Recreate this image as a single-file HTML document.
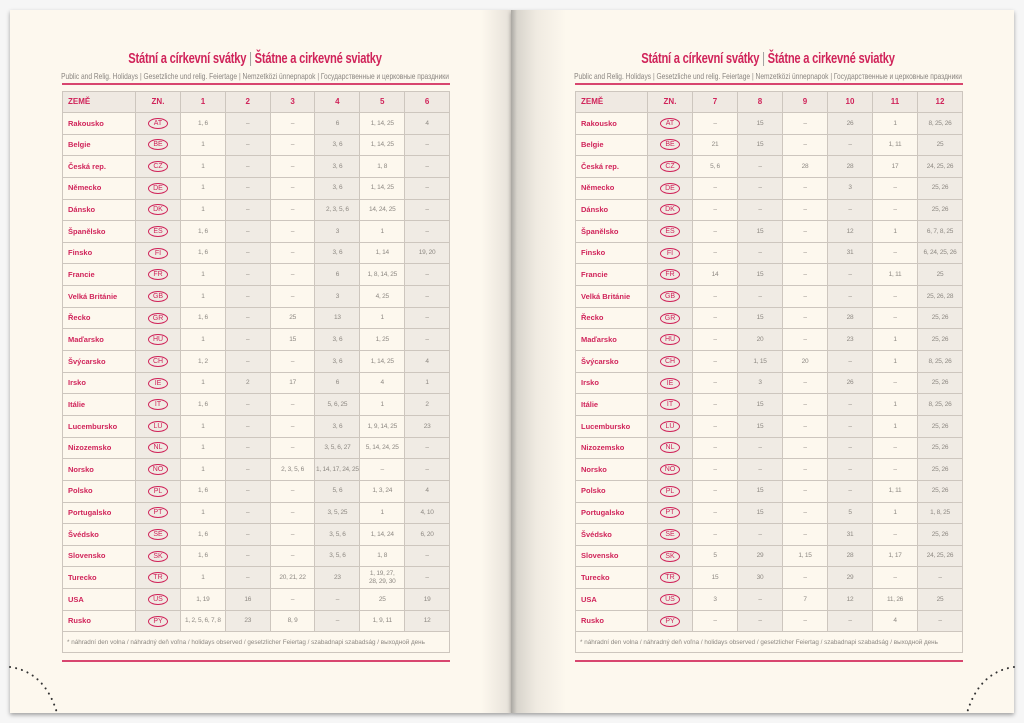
<!DOCTYPE html><html><head><meta charset="utf-8"><style>
*{margin:0;padding:0;box-sizing:border-box}
body{width:1024px;height:723px;background:#f6f6f6;position:relative;overflow:hidden;font-family:"Liberation Sans",sans-serif}
.pg{position:absolute;top:10px;height:703px;background:#fdf8ee}
#L{left:10px;width:501px;box-shadow:0 2px 4px rgba(0,0,0,.35);background:linear-gradient(to left,#e6e1d9 0,#fdf8ee 30px)}
#R{left:511px;width:503px;box-shadow:0 2px 4px rgba(0,0,0,.35);background:linear-gradient(to right,#a9a6a1 0,#d8d4cc 6px,#efeae1 25px,#fdf8ee 55px)}
.t1{position:absolute;top:51px;width:1000px;text-align:center;color:#d0245a;font-size:14.5px;font-weight:bold;letter-spacing:-.3px;transform:scaleX(.77);white-space:nowrap}
.t1 span{color:#999;font-weight:normal}
.t2{position:absolute;top:71px;width:1000px;text-align:center;color:#8a8580;font-size:8.5px;white-space:nowrap;transform:scaleX(.78)}
.rl{position:absolute;height:2px;background:#d8466f;width:388px}
table{position:absolute;top:91px;border-collapse:collapse;table-layout:fixed;width:388px;border:1.5px solid #c9c2ba}
td{border:1px solid #cdc6be;height:21.65px;text-align:center;font-size:6.5px;color:#8d8882;line-height:7.5px;padding:0;letter-spacing:-.25px;white-space:nowrap}
tr:first-child td{background:#efe9e2;color:#d0245a;font-size:8px;font-weight:bold;height:21px;letter-spacing:0}
td:first-child{text-align:left;padding-left:5px;color:#d0245a;font-weight:bold;font-size:7.5px;letter-spacing:0}
td:nth-child(2),td:nth-child(4),td:nth-child(6),td:nth-child(8){background:#f0ebe4}
td:nth-child(3),td:nth-child(5),td:nth-child(7){background:#fdf8ee}
i{display:inline-block;font-style:normal;border:1px solid #d0245a;border-radius:50%;color:#d0245a;font-size:7px;width:20px;height:11px;line-height:9px;font-weight:normal;vertical-align:middle;letter-spacing:0}
td.f{text-align:left;padding-left:4px;color:#8d8882;font-weight:normal;font-size:6.3px;height:21px;background:#fdf8ee}
</style></head><body>
<div class="pg" id="L"></div><div class="pg" id="R"></div>
<div class="t1" style="left:-245px">Státní a církevní svátky <span>|</span> Štátne a cirkevné sviatky</div>
<div class="t2" style="left:-245px">Public and Relig. Holidays | Gesetzliche und relig. Feiertage | Nemzetközi ünnepnapok | Государственные и церковные праздники</div>
<div class="rl" style="left:62px;top:83px"></div>
<div class="t1" style="left:268px">Státní a církevní svátky <span>|</span> Štátne a cirkevné sviatky</div>
<div class="t2" style="left:268px">Public and Relig. Holidays | Gesetzliche und relig. Feiertage | Nemzetközi ünnepnapok | Государственные и церковные праздники</div>
<div class="rl" style="left:575px;top:83px"></div>
<table style="left:62px"><colgroup><col style="width:73px"><col style="width:45px"><col><col><col><col><col><col></colgroup>
<tr><td>ZEMĚ</td><td>ZN.</td><td>1</td><td>2</td><td>3</td><td>4</td><td>5</td><td>6</td></tr>
<tr><td>Rakousko</td><td><i>AT</i></td><td>1, 6</td><td>–</td><td>–</td><td>6</td><td>1, 14, 25</td><td>4</td></tr>
<tr><td>Belgie</td><td><i>BE</i></td><td>1</td><td>–</td><td>–</td><td>3, 6</td><td>1, 14, 25</td><td>–</td></tr>
<tr><td>Česká rep.</td><td><i>CZ</i></td><td>1</td><td>–</td><td>–</td><td>3, 6</td><td>1, 8</td><td>–</td></tr>
<tr><td>Německo</td><td><i>DE</i></td><td>1</td><td>–</td><td>–</td><td>3, 6</td><td>1, 14, 25</td><td>–</td></tr>
<tr><td>Dánsko</td><td><i>DK</i></td><td>1</td><td>–</td><td>–</td><td>2, 3, 5, 6</td><td>14, 24, 25</td><td>–</td></tr>
<tr><td>Španělsko</td><td><i>ES</i></td><td>1, 6</td><td>–</td><td>–</td><td>3</td><td>1</td><td>–</td></tr>
<tr><td>Finsko</td><td><i>FI</i></td><td>1, 6</td><td>–</td><td>–</td><td>3, 6</td><td>1, 14</td><td>19, 20</td></tr>
<tr><td>Francie</td><td><i>FR</i></td><td>1</td><td>–</td><td>–</td><td>6</td><td>1, 8, 14, 25</td><td>–</td></tr>
<tr><td>Velká Británie</td><td><i>GB</i></td><td>1</td><td>–</td><td>–</td><td>3</td><td>4, 25</td><td>–</td></tr>
<tr><td>Řecko</td><td><i>GR</i></td><td>1, 6</td><td>–</td><td>25</td><td>13</td><td>1</td><td>–</td></tr>
<tr><td>Maďarsko</td><td><i>HU</i></td><td>1</td><td>–</td><td>15</td><td>3, 6</td><td>1, 25</td><td>–</td></tr>
<tr><td>Švýcarsko</td><td><i>CH</i></td><td>1, 2</td><td>–</td><td>–</td><td>3, 6</td><td>1, 14, 25</td><td>4</td></tr>
<tr><td>Irsko</td><td><i>IE</i></td><td>1</td><td>2</td><td>17</td><td>6</td><td>4</td><td>1</td></tr>
<tr><td>Itálie</td><td><i>IT</i></td><td>1, 6</td><td>–</td><td>–</td><td>5, 6, 25</td><td>1</td><td>2</td></tr>
<tr><td>Lucembursko</td><td><i>LU</i></td><td>1</td><td>–</td><td>–</td><td>3, 6</td><td>1, 9, 14, 25</td><td>23</td></tr>
<tr><td>Nizozemsko</td><td><i>NL</i></td><td>1</td><td>–</td><td>–</td><td>3, 5, 6, 27</td><td>5, 14, 24, 25</td><td>–</td></tr>
<tr><td>Norsko</td><td><i>NO</i></td><td>1</td><td>–</td><td>2, 3, 5, 6</td><td>1, 14, 17, 24, 25</td><td>–</td><td>–</td></tr>
<tr><td>Polsko</td><td><i>PL</i></td><td>1, 6</td><td>–</td><td>–</td><td>5, 6</td><td>1, 3, 24</td><td>4</td></tr>
<tr><td>Portugalsko</td><td><i>PT</i></td><td>1</td><td>–</td><td>–</td><td>3, 5, 25</td><td>1</td><td>4, 10</td></tr>
<tr><td>Švédsko</td><td><i>SE</i></td><td>1, 6</td><td>–</td><td>–</td><td>3, 5, 6</td><td>1, 14, 24</td><td>6, 20</td></tr>
<tr><td>Slovensko</td><td><i>SK</i></td><td>1, 6</td><td>–</td><td>–</td><td>3, 5, 6</td><td>1, 8</td><td>–</td></tr>
<tr><td>Turecko</td><td><i>TR</i></td><td>1</td><td>–</td><td>20, 21, 22</td><td>23</td><td>1, 19, 27,<br>28, 29, 30</td><td>–</td></tr>
<tr><td>USA</td><td><i>US</i></td><td>1, 19</td><td>16</td><td>–</td><td>–</td><td>25</td><td>19</td></tr>
<tr><td>Rusko</td><td><i>PY</i></td><td>1, 2, 5, 6, 7, 8</td><td>23</td><td>8, 9</td><td>–</td><td>1, 9, 11</td><td>12</td></tr>
<tr><td class="f" colspan="8">* náhradní den volna / náhradný deň voľna / holidays observed / gesetzlicher Feiertag / szabadnapi szabadság / выходной день</td></tr>
</table>
<div class="rl" style="left:62px;top:660px"></div>
<table style="left:575px"><colgroup><col style="width:72px"><col style="width:45px"><col><col><col><col><col><col></colgroup>
<tr><td>ZEMĚ</td><td>ZN.</td><td>7</td><td>8</td><td>9</td><td>10</td><td>11</td><td>12</td></tr>
<tr><td>Rakousko</td><td><i>AT</i></td><td>–</td><td>15</td><td>–</td><td>26</td><td>1</td><td>8, 25, 26</td></tr>
<tr><td>Belgie</td><td><i>BE</i></td><td>21</td><td>15</td><td>–</td><td>–</td><td>1, 11</td><td>25</td></tr>
<tr><td>Česká rep.</td><td><i>CZ</i></td><td>5, 6</td><td>–</td><td>28</td><td>28</td><td>17</td><td>24, 25, 26</td></tr>
<tr><td>Německo</td><td><i>DE</i></td><td>–</td><td>–</td><td>–</td><td>3</td><td>–</td><td>25, 26</td></tr>
<tr><td>Dánsko</td><td><i>DK</i></td><td>–</td><td>–</td><td>–</td><td>–</td><td>–</td><td>25, 26</td></tr>
<tr><td>Španělsko</td><td><i>ES</i></td><td>–</td><td>15</td><td>–</td><td>12</td><td>1</td><td>6, 7, 8, 25</td></tr>
<tr><td>Finsko</td><td><i>FI</i></td><td>–</td><td>–</td><td>–</td><td>31</td><td>–</td><td>6, 24, 25, 26</td></tr>
<tr><td>Francie</td><td><i>FR</i></td><td>14</td><td>15</td><td>–</td><td>–</td><td>1, 11</td><td>25</td></tr>
<tr><td>Velká Británie</td><td><i>GB</i></td><td>–</td><td>–</td><td>–</td><td>–</td><td>–</td><td>25, 26, 28</td></tr>
<tr><td>Řecko</td><td><i>GR</i></td><td>–</td><td>15</td><td>–</td><td>28</td><td>–</td><td>25, 26</td></tr>
<tr><td>Maďarsko</td><td><i>HU</i></td><td>–</td><td>20</td><td>–</td><td>23</td><td>1</td><td>25, 26</td></tr>
<tr><td>Švýcarsko</td><td><i>CH</i></td><td>–</td><td>1, 15</td><td>20</td><td>–</td><td>1</td><td>8, 25, 26</td></tr>
<tr><td>Irsko</td><td><i>IE</i></td><td>–</td><td>3</td><td>–</td><td>26</td><td>–</td><td>25, 26</td></tr>
<tr><td>Itálie</td><td><i>IT</i></td><td>–</td><td>15</td><td>–</td><td>–</td><td>1</td><td>8, 25, 26</td></tr>
<tr><td>Lucembursko</td><td><i>LU</i></td><td>–</td><td>15</td><td>–</td><td>–</td><td>1</td><td>25, 26</td></tr>
<tr><td>Nizozemsko</td><td><i>NL</i></td><td>–</td><td>–</td><td>–</td><td>–</td><td>–</td><td>25, 26</td></tr>
<tr><td>Norsko</td><td><i>NO</i></td><td>–</td><td>–</td><td>–</td><td>–</td><td>–</td><td>25, 26</td></tr>
<tr><td>Polsko</td><td><i>PL</i></td><td>–</td><td>15</td><td>–</td><td>–</td><td>1, 11</td><td>25, 26</td></tr>
<tr><td>Portugalsko</td><td><i>PT</i></td><td>–</td><td>15</td><td>–</td><td>5</td><td>1</td><td>1, 8, 25</td></tr>
<tr><td>Švédsko</td><td><i>SE</i></td><td>–</td><td>–</td><td>–</td><td>31</td><td>–</td><td>25, 26</td></tr>
<tr><td>Slovensko</td><td><i>SK</i></td><td>5</td><td>29</td><td>1, 15</td><td>28</td><td>1, 17</td><td>24, 25, 26</td></tr>
<tr><td>Turecko</td><td><i>TR</i></td><td>15</td><td>30</td><td>–</td><td>29</td><td>–</td><td>–</td></tr>
<tr><td>USA</td><td><i>US</i></td><td>3</td><td>–</td><td>7</td><td>12</td><td>11, 26</td><td>25</td></tr>
<tr><td>Rusko</td><td><i>PY</i></td><td>–</td><td>–</td><td>–</td><td>–</td><td>4</td><td>–</td></tr>
<tr><td class="f" colspan="8">* náhradní den volna / náhradný deň voľna / holidays observed / gesetzlicher Feiertag / szabadnapi szabadság / выходной день</td></tr>
</table>
<div class="rl" style="left:575px;top:660px"></div>
<svg style="position:absolute;left:0;top:0" width="1024" height="723">
<path d="M10 667 Q45 672 57 713" fill="none" stroke="#333" stroke-width="2" stroke-dasharray="0.1 6" stroke-linecap="round"/>
<path d="M1014 667 Q979 672 967 713" fill="none" stroke="#333" stroke-width="2" stroke-dasharray="0.1 6" stroke-linecap="round"/>
</svg>
</body></html>
